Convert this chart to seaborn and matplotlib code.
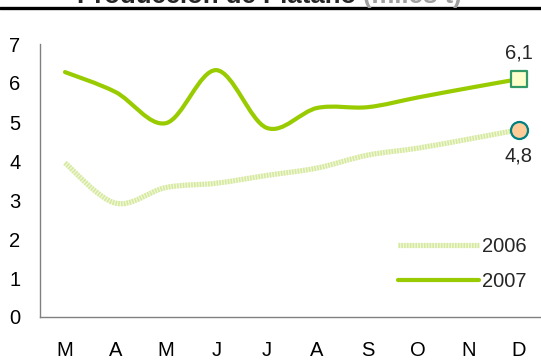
import numpy as np
import pandas as pd
import seaborn as sns
import matplotlib
matplotlib.use("Agg")
import matplotlib.pyplot as plt
from matplotlib.path import Path
from matplotlib.patches import PathPatch
from matplotlib.lines import Line2D

# ---- data ----
months = ["M", "A", "M", "J", "J", "A", "S", "O", "N", "D"]
prod_2006 = [3.95, 2.92, 3.32, 3.43, 3.63, 3.82, 4.15, 4.33, 4.56, 4.8]
prod_2007 = [6.28, 5.77, 4.97, 6.33, 4.85, 5.36, 5.38, 5.63, 5.87, 6.1]
series_names = ["2006", "2007"]
title_main = "Producción de Plátano "
title_unit = "(miles t)"

sns.set_theme(style="white")
plt.rcParams["font.family"] = ["Liberation Sans", "DejaVu Sans"]

FS = 14.5
fig = plt.figure(figsize=(5.41, 3.61), dpi=100)
W, H = 541, 361
ax = fig.add_axes([40 / W, 1 - 317 / H, 1 - 40 / W, (317 - 44) / H])

x = np.arange(len(months))
df = pd.DataFrame({"mes": np.tile(x, 2),
                   "valor": prod_2006 + prod_2007,
                   "serie": np.repeat(series_names, len(months))})


def smooth_path(xs, ys):
    pts = np.column_stack([xs, ys]).astype(float)
    n = len(pts)
    verts = [pts[0]]
    codes = [Path.MOVETO]
    for i in range(n - 1):
        p0 = pts[i - 1] if i > 0 else pts[i]
        p1 = pts[i]
        p2 = pts[i + 1]
        p3 = pts[i + 2] if i + 2 < n else pts[i + 1]
        c1 = p1 + (p2 - p0) / 6.0
        c2 = p2 - (p3 - p1) / 6.0
        verts += [c1, c2, p2]
        codes += [Path.CURVE4] * 3
    return Path(verts, codes)


c06_bg = "#f0f7da"
c06 = "#d5e99c"
c07 = "#99cc00"
LW06 = 3.7
LW07 = 3.0
ls06 = (0, (0.3, 0.25))

p06 = smooth_path(x, prod_2006)
ax.add_patch(PathPatch(p06, fill=False, edgecolor=c06_bg, linewidth=LW06,
                       capstyle="butt", zorder=2))
ax.add_patch(PathPatch(p06, fill=False, edgecolor=c06, linewidth=LW06,
                       linestyle=ls06, capstyle="butt", zorder=2))
ax.add_patch(PathPatch(smooth_path(x, prod_2007), fill=False, edgecolor=c07,
                       linewidth=LW07, capstyle="round", zorder=3))

last = df[df["mes"] == x[-1]]
sns.scatterplot(data=last[last["serie"] == "2007"], x="mes", y="valor", ax=ax,
                marker="s", s=125, color="#ffffcc", edgecolor="#339966",
                linewidth=1.6, zorder=5, legend=False)
sns.scatterplot(data=last[last["serie"] == "2006"], x="mes", y="valor", ax=ax,
                marker="o", s=150, color="#ffcc99", edgecolor="#008080",
                linewidth=1.6, zorder=5, legend=False)

fmt = lambda v: f"{v:.1f}".replace(".", ",")
ax.annotate(fmt(prod_2007[-1]), (x[-1], prod_2007[-1]), xytext=(0, 12),
            textcoords="offset points", ha="center", va="bottom", fontsize=FS)
ax.annotate(fmt(prod_2006[-1]), (x[-1], prod_2006[-1]), xytext=(0, -12),
            textcoords="offset points", ha="center", va="top", fontsize=FS)

ax.set_xlim(-0.496, 9.44)
ax.set_ylim(0, 7)
ax.set_xticks(x)
ax.set_xticklabels(months)
ax.set_yticks(range(0, 8))
ax.tick_params(axis="both", length=0, labelsize=FS, colors="black")
ax.tick_params(axis="x", pad=17)
ax.tick_params(axis="y", pad=14)
ax.set_xlabel("")
ax.set_ylabel("")
for s in ["top", "right"]:
    ax.spines[s].set_visible(False)
for s in ["left", "bottom"]:
    ax.spines[s].set_color("#808080")
    ax.spines[s].set_linewidth(1.0)

h06 = (Line2D([], [], color=c06_bg, linewidth=LW06, solid_capstyle="butt"),
       Line2D([], [], color=c06, linewidth=LW06, linestyle=ls06))
h07 = Line2D([], [], color=c07, linewidth=LW07, solid_capstyle="round")
ax.legend([h06, h07], series_names, loc="upper left",
          bbox_to_anchor=(398 / W, 1 - 237 / H), bbox_transform=fig.transFigure,
          frameon=False, fontsize=FS, handlelength=4.0, handletextpad=0.15,
          labelspacing=0.8, borderpad=0, borderaxespad=0)

# title (partially cut off at top) and rule line
t1 = fig.text(77 / W, 1 - 3 / H, title_main, fontsize=18.5, fontweight="bold",
              ha="left", va="baseline")
fig.canvas.draw()
bb = t1.get_window_extent()
fig.text(bb.x1 / W, 1 - 3 / H, title_unit, fontsize=18.5, fontweight="bold",
         ha="left", va="baseline", color="#a0a0a0")
fig.add_artist(Line2D([0, 1], [1 - 8 / H, 1 - 8 / H], color="black",
                      linewidth=2.4, transform=fig.transFigure))

fig.savefig("out.png", dpi=100)
